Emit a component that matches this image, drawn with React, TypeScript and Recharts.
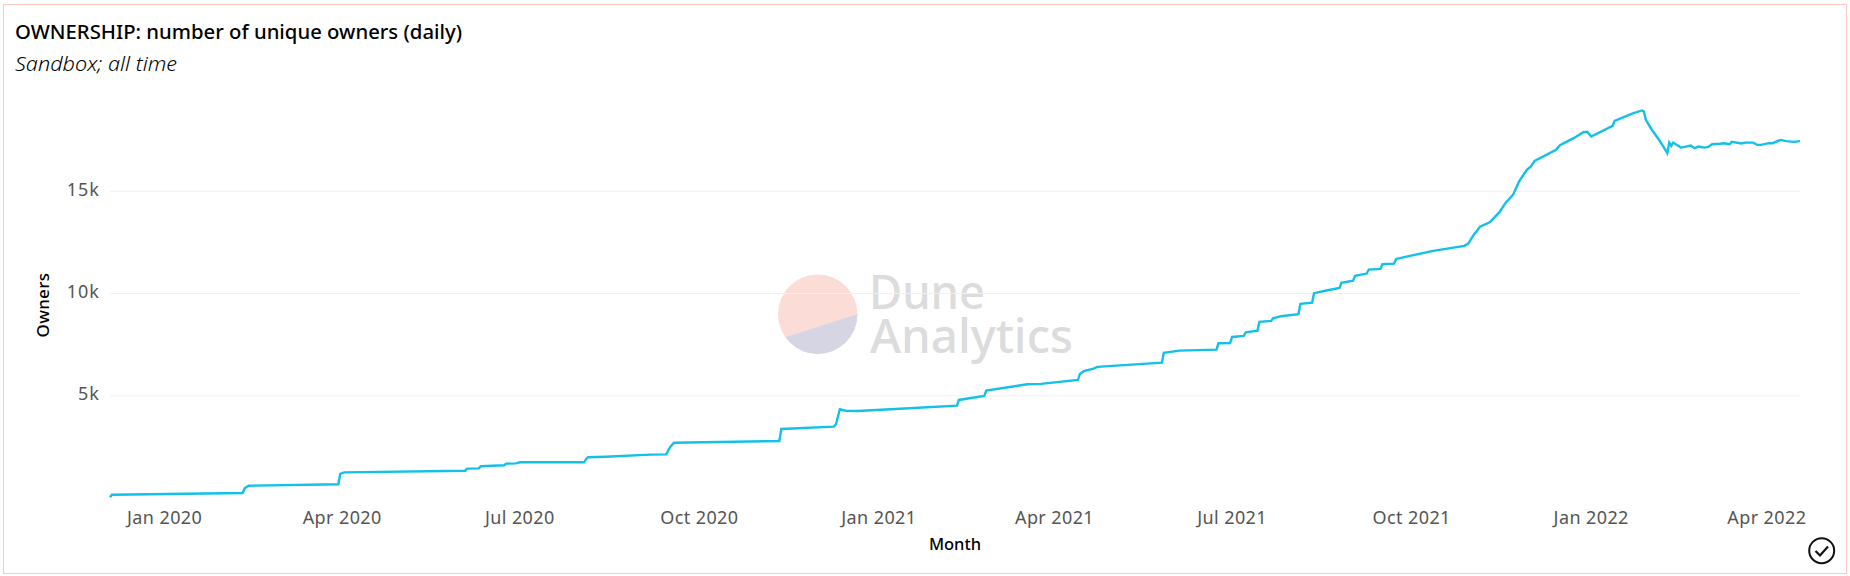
import React from "react";
import { LineChart, Line, XAxis, YAxis, CartesianGrid } from "recharts";

// days since 4 Dec 2019
const dayOffsets = [
  0, 1, 68, 69, 71, 117, 118, 120, 182, 183, 189, 190, 202, 203, 208, 210, 243, 244, 245, 254,
  277, 285, 287, 289, 343, 344, 371, 372, 374, 377, 383, 400, 434, 435, 448, 449, 470, 477, 496, 497, 499, 504,
  506, 539, 540, 548, 567, 568, 574, 575, 581, 582, 588, 589, 595, 596, 600, 609, 610, 616, 617, 624, 630, 631,
  637, 638, 644, 645, 651, 652, 658, 659, 678, 694, 696, 699, 700, 702, 707, 712, 715, 719, 722, 726, 728, 730,
  741, 743, 750, 755, 757, 759, 770, 771, 775, 780, 785, 786, 787, 790, 794, 796, 798, 799, 800, 801, 805, 807,
  810, 812, 814, 817, 819, 821, 825, 827, 830, 831, 836, 838, 842, 844, 846, 850, 852, 856, 859, 863, 866,
];
const owners = [
  35, 160, 245, 475, 600, 670, 1175, 1255, 1335, 1435, 1450, 1550, 1600, 1680, 1695, 1745, 1745, 1910, 1990, 2020,
  2120, 2135, 2480, 2705, 2790, 3375, 3490, 3605, 4340, 4270, 4255, 4340, 4515, 4795, 4990, 5250, 5560, 5580, 5770, 6065, 6200, 6325,
  6410, 6620, 7095, 7205, 7255, 7565, 7580, 7875, 7925, 8105, 8185, 8610, 8660, 8790, 8890, 8985, 9490, 9555, 10015, 10160, 10270, 10520,
  10630, 10860, 10975, 11170, 11205, 11430, 11460, 11690, 12085, 12330, 12440, 12900, 13000, 13270, 13485, 13975, 14415, 14835, 15470, 16045, 16205, 16485,
  17025, 17250, 17595, 17890, 17905, 17675, 18200, 18440, 18605, 18800, 18950, 18900, 18490, 18020, 17480, 17185, 16860, 17380, 17220, 17380, 17135, 17170,
  17235, 17105, 17185, 17135, 17170, 17300, 17320, 17350, 17300, 17415, 17335, 17380, 17380, 17270, 17270, 17350, 17350, 17510, 17450, 17415, 17450,
];
const tickDays = [28, 119, 210, 302, 394, 484, 575, 667, 759, 849];
const tickLabels = ["Jan 2020", "Apr 2020", "Jul 2020", "Oct 2020", "Jan 2021", "Apr 2021", "Jul 2021", "Oct 2021", "Jan 2022", "Apr 2022"];
const yTicks = [5000, 10000, 15000];

const tableRows = dayOffsets.map((day, i) => ({ day, owners: owners[i] }));
const FONT = "'Noto Sans', sans-serif";

export default function App() {
  return (
    <div style={{ position: "absolute", left: 0, top: 0, width: 1850, height: 576, background: "#fff", overflow: "hidden" }}>
      <svg width={1850} height={576} style={{ position: "absolute", left: 0, top: 0 }}>
        <defs>
          <clipPath id="wm">
            <circle cx={817.7} cy={314.3} r={39.7} />
          </clipPath>
        </defs>
        <rect x={3.5} y={4.5} width={1843} height={569} fill="#fff" stroke="#fcc9c3" strokeWidth={1} />
        <text x={15} y={38.5} fontFamily={FONT} fontSize={19} fontWeight={500} fill="#000" textLength={447} lengthAdjust="spacingAndGlyphs">
          OWNERSHIP: number of unique owners (daily)
        </text>
        <text x={15} y={71} fontFamily={FONT} fontSize={20} fontWeight={300} fontStyle="italic" fill="#000" textLength={162} lengthAdjust="spacingAndGlyphs">
          Sandbox; all time
        </text>
        <g clipPath="url(#wm)">
          <rect x={770} y={270} width={100} height={90} fill="#fcdcd6" />
          <polygon points="770,342 870,310.3 870,360 770,360" fill="#d6d5e3" />
        </g>
        <text x={869} y={309} fontFamily={FONT} fontSize={47} fontWeight={500} fill="#dcdcdc" textLength={116} lengthAdjust="spacingAndGlyphs">Dune</text>
        <text x={870} y={353} fontFamily={FONT} fontSize={47} fontWeight={500} fill="#dcdcdc" textLength={203} lengthAdjust="spacingAndGlyphs">Analytics</text>
      </svg>
      <div style={{ position: "absolute", left: 0, top: 0 }}>
        <LineChart width={1850} height={576} data={tableRows} margin={{ top: 89, right: 50, bottom: 0, left: 0 }}>
          <CartesianGrid horizontal vertical={false} horizontalValues={yTicks} stroke="#f0f0f0" strokeWidth={1} />
          <XAxis
            dataKey="day"
            type="number"
            domain={[0, 866]}
            ticks={tickDays}
            interval={0}
            tickFormatter={(d: number) => tickLabels[tickDays.indexOf(d)]}
            axisLine={false}
            tickLine={false}
            tickMargin={7}
            height={78}
            tick={{ fontFamily: FONT, fontSize: 18, fill: "#555", letterSpacing: 0.4 }}
            label={{ value: "Month", position: "insideBottom", offset: 26, fontFamily: FONT, fontSize: 16.5, fontWeight: 500, fill: "#000" }}
          />
          <YAxis
            type="number"
            domain={[0, 20000]}
            ticks={yTicks}
            width={110}
            axisLine={false}
            tickLine={false}
            tickMargin={4}
            tickFormatter={(v: number) => `${v / 1000}k`}
            tick={{ fontFamily: FONT, fontSize: 18, fill: "#555", dy: -2, letterSpacing: 1 }}
            label={{ value: "Owners", angle: -90, position: "insideLeft", dx: 38, dy: 44, fontFamily: FONT, fontSize: 17, fontWeight: 500, fill: "#000", letterSpacing: 0.3 }}
          />
          <Line type="linear" dataKey="owners" stroke="#13c0ea" strokeWidth={2.4} dot={false} isAnimationActive={false} />
        </LineChart>
      </div>
      <svg width={1850} height={576} style={{ position: "absolute", left: 0, top: 0, pointerEvents: "none" }}>
        <circle cx={1821.7} cy={550.7} r={12.5} fill="none" stroke="#111" strokeWidth={2} />
        <path d="M 1815.5 551 L 1820 555.5 L 1828 546.5" fill="none" stroke="#111" strokeWidth={2.2} />
      </svg>
    </div>
  );
}
